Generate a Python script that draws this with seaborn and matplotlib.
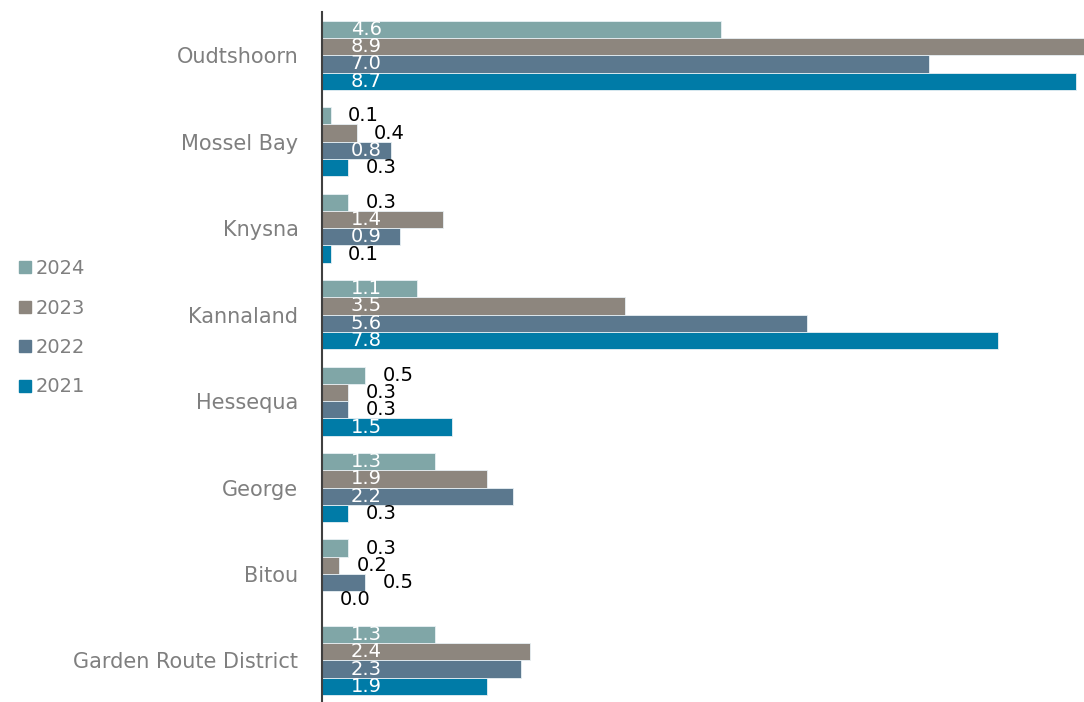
import matplotlib
matplotlib.use("Agg")
import matplotlib.pyplot as plt
from matplotlib.lines import Line2D
import seaborn as sns
import pandas as pd

# Municipal values by year
municipalities = ["Oudtshoorn", "Mossel Bay", "Knysna", "Kannaland",
                  "Hessequa", "George", "Bitou", "Garden Route District"]
years = ["2024", "2023", "2022", "2021"]
values_2024 = [4.6, 0.1, 0.3, 1.1, 0.5, 1.3, 0.3, 1.3]
values_2023 = [8.9, 0.4, 1.4, 3.5, 0.3, 1.9, 0.2, 2.4]
values_2022 = [7.0, 0.8, 0.9, 5.6, 0.3, 2.2, 0.5, 2.3]
values_2021 = [8.7, 0.3, 0.1, 7.8, 1.5, 0.3, 0.0, 1.9]
palette = {"2024": "#80A6A7", "2023": "#8D867E", "2022": "#5B788E", "2021": "#007BA7"}

series = dict(zip(years, [values_2024, values_2023, values_2022, values_2021]))
rows = []
for yr, vals in series.items():
    for m, v in zip(municipalities, vals):
        rows.append({"Municipality": m, "Year": yr, "Value": v})
df = pd.DataFrame(rows)

sns.set_theme(style="white")
plt.rcParams["font.family"] = ["DejaVu Sans"]

fig = plt.figure(figsize=(10.84, 7.02), dpi=100)
ax = fig.add_axes([322 / 1084, 0.0, 1 - 322 / 1084, 690 / 702])

sns.barplot(data=df, y="Municipality", x="Value", hue="Year",
            order=municipalities, hue_order=years, palette=palette,
            saturation=1, orient="h", width=0.8, edgecolor="#E8F0F4",
            linewidth=0.6, errorbar=None, ax=ax, legend=False)

ax.set_xlim(0, 8.79)
ax.set_ylim(7.48, -0.5)
ax.set_xlabel("")
ax.set_ylabel("")
ax.set_xticks([])
for s in ["top", "right", "bottom"]:
    ax.spines[s].set_visible(False)
ax.spines["left"].set_color("#404040")
ax.spines["left"].set_linewidth(1.5)
ax.tick_params(axis="y", length=0, pad=17, labelsize=15, labelcolor="#7F7F7F")

# Value labels: white inside long bars, black beside short ones
for container, yr in zip(ax.containers, years):
    for bar, v in zip(container, series[yr]):
        yc = bar.get_y() + bar.get_height() / 2
        if v > 0.6:
            ax.text(0.51, yc, f"{v:.1f}", ha="center", va="center",
                    color="white", fontsize=14)
        else:
            ax.text(v + 0.2, yc, f"{v:.1f}", ha="left", va="center",
                    color="black", fontsize=14)

handles = [Line2D([0], [0], marker="s", linestyle="none", markersize=8,
                  markerfacecolor=palette[y], markeredgecolor=palette[y])
           for y in years]
fig.legend(handles, years, loc="center left", bbox_to_anchor=(0.0, 0.533),
           frameon=False, fontsize=14, labelcolor="#7F7F7F",
           handletextpad=0.15, labelspacing=1.05, handlelength=0.8)

fig.savefig("out.png", dpi=100)
